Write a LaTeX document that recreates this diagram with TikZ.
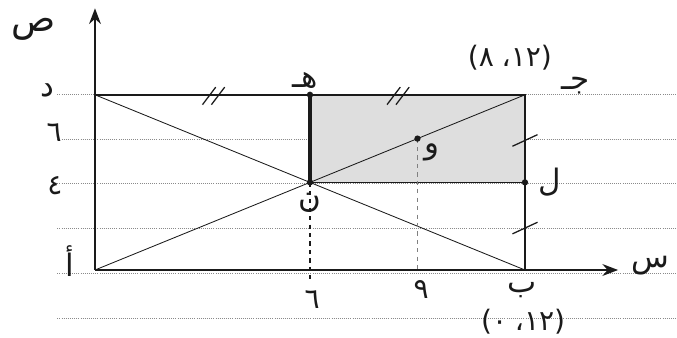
\documentclass[tikz,border=0pt]{standalone}
\usepackage{fontspec}
\newfontfamily\arabicfont[Script=Arabic]{DejaVu Sans}
\newfontfamily\arnum{DejaVu Sans}
\TeXXeTstate=1
\usetikzlibrary{arrows.meta,positioning}
\definecolor{ink}{HTML}{1A1A1A}
\definecolor{paleshade}{HTML}{DEDEDE}
\definecolor{rule}{HTML}{8A8A8A}

\begin{document}
\begin{tikzpicture}[x=0.8958cm,y=0.5475cm,
    >=Stealth,
    lbl/.style={font=\arabicfont\fontsize{22}{24}\selectfont,text=ink,inner sep=1pt},
    num/.style={font=\arnum\fontsize{20}{22}\selectfont,text=ink,inner sep=1pt},
    ruled/.style={draw=rule,densely dotted,line width=0.5pt},
    axis/.style={->,draw=ink,line width=1.8pt},
    side/.style={draw=ink,line width=1.1pt},
    diag/.style={draw=ink,line width=0.6pt},
    tick/.style={draw=ink,line width=0.9pt},
    pt/.style={circle,fill=ink,inner sep=0pt,minimum size=4.5pt}]
    \useasboundingbox (-2.651,-3.105) rectangle (16.243,12.329);
    % notebook lines
    \foreach \y in {8,5.95,3.95,1.9,-0.15,-2.2}
      \draw[ruled] (-1.05,\y) -- (16.243,\y);
    \coordinate (A) at (0,0);
    \coordinate (B) at (12,0);
    \coordinate (C) at (12,8);
    \coordinate (D) at (0,8);
    \coordinate (H) at (6,8);
    \coordinate (N) at (6,4);
    \coordinate (L) at (12,4);
    \coordinate (W) at (9,6);
    \coordinate (xend) at (14.6,0);
    \coordinate (ytop) at (0,11.95);
    \coordinate (Nfoot) at (6,-0.6);
    \coordinate (Wfoot) at (9,0);
    % shaded part
    \fill[paleshade] (H) rectangle (L);
    \draw[diag] (A) -- (C);
    \draw[diag] (B) -- (D);
    \draw[side] (D) -- (C) -- (B);
    \draw[side] (N) -- (L);
    \draw[draw=ink,line width=2.4pt] (H) -- (N);
    \draw[draw=ink,dashed,line width=0.8pt] (N) -- (Nfoot);
    \draw[draw=gray,dashed,line width=0.5pt] (W) -- (Wfoot);
    \draw[axis] (A) -- (xend);
    \draw[axis] (A) -- (ytop);
    \node[pt] (h) at (H) {};
    \node[pt] (n) at (N) {};
    \node[pt] (l) at (L) {};
    \node[pt] (w) at (W) {};
    % equal marks
    \draw[tick] (3.0,7.55) -- ++(0.37,0.8);
    \draw[tick] (3.25,7.55) -- ++(0.37,0.8);
    \draw[tick] (8.15,7.55) -- ++(0.37,0.8);
    \draw[tick] (8.4,7.55) -- ++(0.37,0.8);
    \draw[tick] (11.65,5.65) -- ++(0.7,0.53);
    \draw[tick] (11.65,1.65) -- ++(0.7,0.53);
    % labels
    \node[lbl,font=\arabicfont\fontsize{26}{28}\selectfont] (sad) at (-1.70,11.0) {\beginR ص\endR};
    \node[lbl] (dal) at (-1.34,8.2) {\beginR د\endR};
    \node[num] (six) at (-1.14,6.26) {٦};
    \node[num] (four) at (-1.12,3.84) {٤};
    \node[lbl] (alef) at (-0.70,0.4) {\beginR أ\endR};
    \node[lbl,above left=0.5mm and -3mm of h] (ha) {\beginR هـ\endR};
    \node[num] (ccoord) at (11.58,9.68) {(٨\;،١٢)};
    \node[lbl] (jeem) at (13.4,8.4) {\beginR جـ\endR};
    \node[lbl] (waw) at (9.41,5.39) {\beginR و\endR};
    \node[lbl,right=2mm of l] (lam) {\beginR ل\endR};
    \node[lbl,below=1.5mm of n] (noon) {\beginR ن\endR};
    \node[num] (sixb) at (6.06,-1.37) {٦};
    \node[num] (nine) at (9.10,-0.91) {٩};
    \node[lbl] (beh) at (11.92,-0.91) {\beginR ب\endR};
    \node[num] (bcoord) at (11.95,-2.37) {(٠\;،١٢)};
    \node[lbl] (seen) at (15.49,0.2) {\beginR س\endR};
\end{tikzpicture}
\end{document}
